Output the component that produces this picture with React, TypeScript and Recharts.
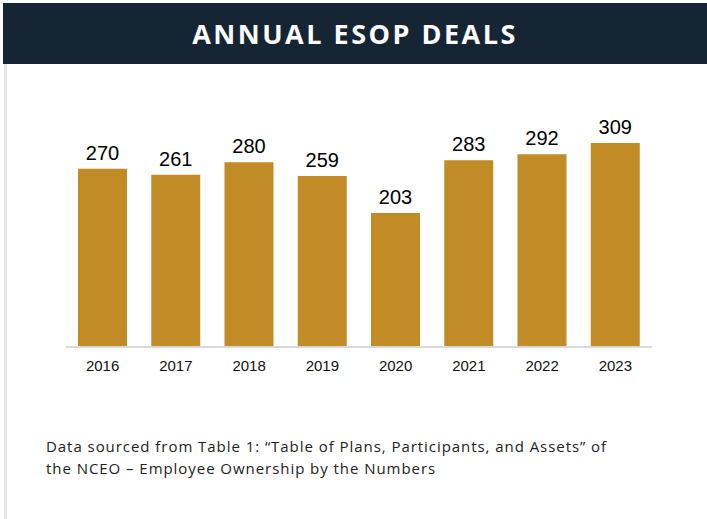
import React from "react";
import { BarChart, Bar, XAxis, YAxis, LabelList } from "recharts";

const years = ["2016", "2017", "2018", "2019", "2020", "2021", "2022", "2023"];
const deals = [270, 261, 280, 259, 203, 283, 292, 309];

const data = years.map((y, i) => ({ year: y, deals: deals[i] }));

export default function App() {
  return (
    <div style={{ position: "absolute", left: 0, top: 0, width: 707, height: 519, background: "#fff", overflow: "hidden" }}>
      <div
        style={{
          position: "absolute",
          left: 3,
          top: 3,
          width: 704,
          height: 61,
          background: "#152533",
          color: "#fff",
          display: "flex",
          alignItems: "center",
          justifyContent: "center",
          fontFamily: "'Open Sans', sans-serif",
          fontWeight: 700,
          fontSize: 27,
          letterSpacing: 2.5,
        }}
      >
        ANNUAL ESOP DEALS
      </div>
      <div style={{ position: "absolute", left: 4, top: 64, width: 3, height: 455, background: "#e6e6e6" }} />
      <div style={{ position: "absolute", left: 0, top: 0 }}>
        <BarChart width={707} height={519} data={data} margin={{ top: 116, right: 55, left: 66, bottom: 142 }}>
          <YAxis hide domain={[0, 350]} />
          <XAxis
            dataKey="year"
            axisLine={{ stroke: "#d9d9d9", strokeWidth: 2 }}
            tickLine={false}
            tick={{ fill: "#111", fontSize: 15, fontFamily: "Arial, 'Liberation Sans', sans-serif" }}
            tickMargin={7}
          />
          <Bar dataKey="deals" fill="#C18C26" barSize={49} isAnimationActive={false}>
            <LabelList
              dataKey="deals"
              position="top"
              offset={9}
              style={{ fill: "#000", fontSize: 20, fontFamily: "Arial, 'Liberation Sans', sans-serif" }}
            />
          </Bar>
        </BarChart>
      </div>
      <div
        style={{
          position: "absolute",
          left: 46,
          top: 435,
          fontFamily: "'Open Sans', sans-serif",
          fontSize: 15,
          lineHeight: "22px",
          letterSpacing: 0.95,
          color: "#222",
        }}
      >
        Data sourced from Table 1: “Table of Plans, Participants, and Assets” of
        <br />
        the NCEO – Employee Ownership by the Numbers
      </div>
    </div>
  );
}
